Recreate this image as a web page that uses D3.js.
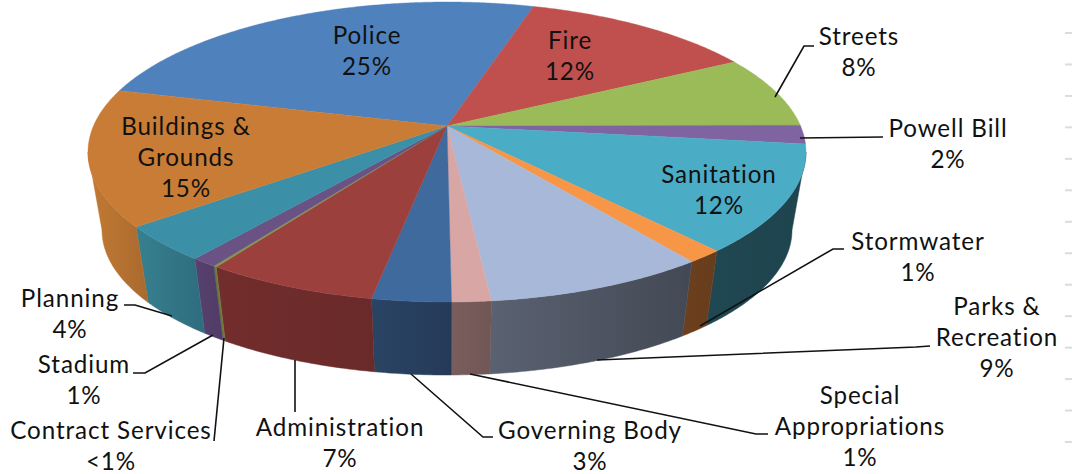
<!DOCTYPE html>
<html>
<head>
<meta charset="utf-8">
<script src="https://cdnjs.cloudflare.com/ajax/libs/d3/7.8.5/d3.min.js"></script>
<style>
  html, body { margin: 0; padding: 0; background: #fff; }
  svg { display: block; }
  text { font-family: Lato, "Open Sans", sans-serif; font-size: 24.2px; fill: #111; text-anchor: middle; dominant-baseline: middle; letter-spacing: 0.9px; }
</style>
</head>
<body>
<svg id="chart" width="1072" height="474"></svg>
<script>
// Budget shares by department, clockwise from the Police slice.
const departments = ["Police", "Fire", "Streets", "Powell Bill", "Sanitation", "Stormwater",
  "Parks & Recreation", "Special Appropriations", "Governing Body", "Administration",
  "Contract Services", "Stadium", "Planning", "Buildings & Grounds"];
const shares = [25.49, 12.49, 7.8, 2.0, 11.5, 1.4, 8.5, 1.49, 3.0, 6.6, 0.12, 1.0, 3.8, 14.7];
const shareLabels = ["25%", "12%", "8%", "2%", "12%", "1%", "9%", "1%", "3%", "7%", "<1%", "1%", "4%", "15%"];

// Face and wall colours, one per department.
const faceColors = ["#4f81bd", "#c0504d", "#9bbb59", "#8064a2", "#4bacc6", "#f79646", "#a8b8d8",
  "#d9a6a6", "#3f6a9e", "#9c403e", "#7f9a48", "#6a5285", "#3b8fa6", "#c97c36"];
const wallLeft = ["#000", "#000", "#000", "#000", "#204852", "#6c401e", "#5a6171",
  "#7a5e5e", "#2a4464", "#722d2c", "#6a7a38", "#57416f", "#36808f", "#c27a33"];
const wallRight = ["#000", "#000", "#000", "#000", "#1e444e", "#663d1d", "#434954",
  "#705654", "#253a58", "#6a2a2a", "#6a7a38", "#503c66", "#2f6c7e", "#a96a2e"];

// Label lines and leader lines are placed by hand around the pie.
const labelLines = {
  "Police": [["Police", 367, 38]], "Fire": [["Fire", 570, 43]], "Streets": [["Streets", 859, 39]],
  "Powell Bill": [["Powell Bill", 948, 131]], "Sanitation": [["Sanitation", 719, 177]],
  "Stormwater": [["Stormwater", 918, 244]],
  "Parks & Recreation": [["Parks &", 997, 309], ["Recreation", 997, 340]],
  "Special Appropriations": [["Special", 860, 398], ["Appropriations", 860, 429]],
  "Governing Body": [["Governing Body", 590, 433]], "Administration": [["Administration", 340, 430]],
  "Contract Services": [["Contract Services", 111, 433]], "Stadium": [["Stadium", 84, 367]],
  "Planning": [["Planning", 70, 301]],
  "Buildings & Grounds": [["Buildings &", 186, 129], ["Grounds", 186, 160]]
};
const lineGap = 31;
const leaders = [
  [[775, 97], [804, 46], [814, 46]],
  [[800, 138], [883, 137]],
  [[700, 326], [833, 249], [844, 249]],
  [[597, 360], [916, 347], [930, 346]],
  [[470, 374], [756, 434], [768, 434]],
  [[411, 374], [483, 437], [493, 437]],
  [[295, 360], [295, 412]],
  [[224, 338], [214, 441]],
  [[213, 335], [145, 373], [133, 373]],
  [[172, 316], [135, 305], [124, 305]]
];

// Top face and the smaller rim of the base, plus the perspective shift of the pie centre.
const faceRim = { cx: 447, cy: 152, rx: 359, ry: 150 };
const baseRim = { cx: 447, cy: 230, rx: 345, ry: 145 };
const shift = 0.173;
const startDeg = -75.3;
const deg = Math.PI / 180;

// Projects a pie angle (radians clockwise from the back) onto a rim ellipse.
function project(theta, e) {
  const X = Math.sin(theta), Y = Math.cos(theta);
  const d = 1 + shift * Y;
  return [e.cx + e.rx * X * Math.sqrt(1 - shift * shift) / d, e.cy - e.ry * (Y + shift) / d];
}
const arcSamples = (a, b) => {
  const n = Math.max(2, Math.ceil((b - a) / (0.5 * deg)));
  return d3.range(n + 1).map(i => a + (b - a) * i / n);
};

const pie = d3.pie().sort(null).startAngle(startDeg * deg).endAngle((startDeg + 360) * deg);
const slices = pie(shares);
const svg = d3.select("#chart");
const line = d3.line();
const apex = [faceRim.cx, faceRim.cy - faceRim.ry * shift];

// Walls: only the part of the rim that faces the viewer.
const wallFrom = Math.acos(-shift), wallTo = 2 * Math.PI - wallFrom;
const defs = svg.append("defs");
const walls = svg.append("g");
slices.forEach((s, i) => {
  const norm = t => ((t % (2 * Math.PI)) + 2 * Math.PI) % (2 * Math.PI);
  let a = norm(s.startAngle), b = a + (s.endAngle - s.startAngle);
  a = Math.max(a, wallFrom); b = Math.min(b, wallTo);
  if (b <= a) return;
  const angles = arcSamples(a, b);
  const upper = angles.map(t => project(t, faceRim));
  const lower = angles.map(t => project(t, baseRim)).reverse();
  const pts = upper.concat(lower);
  const [x0, x1] = d3.extent(pts, p => p[0]);
  const g = defs.append("linearGradient").attr("id", "wall" + i)
    .attr("gradientUnits", "userSpaceOnUse")
    .attr("x1", x0).attr("x2", x1).attr("y1", 0).attr("y2", 0);
  g.append("stop").attr("offset", 0).attr("stop-color", wallLeft[i]);
  g.append("stop").attr("offset", 1).attr("stop-color", wallRight[i]);
  walls.append("path").attr("d", line(pts) + "Z")
    .attr("fill", `url(#wall${i})`).attr("stroke", `url(#wall${i})`).attr("stroke-width", 0.5);
});

// Top face slices.
svg.append("g").selectAll("path").data(slices).join("path")
  .attr("d", s => line([apex].concat(arcSamples(s.startAngle, s.endAngle).map(t => project(t, faceRim)))) + "Z")
  .attr("fill", (s, i) => faceColors[i])
  .attr("stroke", (s, i) => faceColors[i]).attr("stroke-width", 0.4);

// Leader lines.
svg.append("g").selectAll("path").data(leaders).join("path")
  .attr("d", d => line(d)).attr("fill", "none").attr("stroke", "#111").attr("stroke-width", 1.6);

// Category names with the share on the line below.
const labels = svg.append("g");
departments.forEach((name, i) => {
  const rows = labelLines[name];
  rows.forEach(([txt, x, y]) => labels.append("text").attr("x", x).attr("y", y).text(txt));
  const [, lx, ly] = rows[rows.length - 1];
  labels.append("text").attr("x", lx).attr("y", ly + lineGap).text(shareLabels[i]);
});

// Faint tick marks down the right edge.
const tickY = d3.scaleLinear().domain([0, 13]).range([33, 442]);
svg.append("g").selectAll("rect").data(d3.range(14)).join("rect")
  .attr("x", 1065).attr("width", 7).attr("height", 2)
  .attr("y", d => tickY(d) - 1).attr("fill", "#dcdcdc");
</script>
</body>
</html>
